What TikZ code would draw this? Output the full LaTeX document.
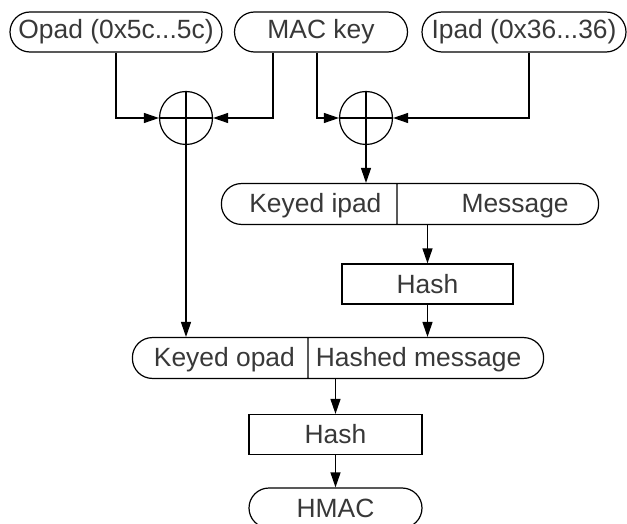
\documentclass[tikz,border=0pt]{standalone}
\usepackage{fontspec}
\setmainfont{Liberation Sans}
\usepackage{xcolor}
\definecolor{TextGray}{rgb}{0.22,0.22,0.22}
\usetikzlibrary{arrows.meta,shapes.multipart}
\tikzset{
  pill/.style={draw, rounded corners=10pt, minimum height=20pt, inner sep=0pt, text=TextGray},
  hashbox/.style={draw, minimum height=20pt, inner sep=0pt, text=TextGray},
  xorop/.style={draw, circle, minimum size=26.5pt, inner sep=0pt},
  splitpill/.style={draw, rounded corners=10pt, rectangle split, rectangle split horizontal,
    rectangle split parts=2, inner xsep=0pt, inner ysep=3pt, text=TextGray},
}
\newcommand{\partbox}[3]{\makebox[#1]{\hspace*{#2}#3\rule[-2.3pt]{0pt}{14pt}}}

\begin{document}
\begin{tikzpicture}[x=0.5pt, y=-0.5pt, line width=0.6pt,
  >={Triangle[length=7.5pt,width=5pt]}, font=\fontsize{13.2}{14}\selectfont]
\useasboundingbox (0,0) rectangle (627,524);

\node[pill, minimum width=106pt] (opad) at (116,32) {Opad (0x5c...5c)};
\node[pill, minimum width=86.5pt] (key) at (321,32) {MAC key};
\node[pill, minimum width=102pt] (ipad) at (524,32) {Ipad (0x36...36)};

\node[xorop] (x1) at (186,118) {};
\node[xorop] (x2) at (366,118) {};
\draw (x1.north) -- (x1.south) (x1.west) -- (x1.east);
\draw (x2.north) -- (x2.south) (x2.west) -- (x2.east);

\node[splitpill] (kip) at (410,204)
  {\partbox{87.5pt}{6.5pt}{Keyed ipad}\nodepart{two}\partbox{100.5pt}{17pt}{Message}};
\node[hashbox, minimum width=85.5pt] (hash1) at (427.5,284) {Hash};
\node[splitpill] (kop) at (338,358)
  {\partbox{87.5pt}{4.5pt}{Keyed opad}\nodepart{two}\partbox{117.5pt}{-7.5pt}{Hashed message}};
\node[hashbox, minimum width=86.5pt] (hash2) at (335.5,434.5) {Hash};
\node[pill, minimum width=86.5pt] (hmac) at (335.5,508) {HMAC};

\draw[->] (opad.south) |- (x1.west);
\draw[->] ([xshift=-24pt]key.south) |- (x1.east);
\draw[->] ([xshift=-2pt]key.south) |- (x2.west);
\draw[->] ([xshift=2.5pt]ipad.south) |- (x2.east);

\draw[->] (x1.south) -- (x1.south |- kop.north);
\draw[->] (x2.south) -- (x2.south |- kip.north);
\draw[->] (hash1.north |- kip.south) -- (hash1.north);
\draw[->] (hash1.south) -- (hash1.south |- kop.north);
\draw[->] (hash2.north |- kop.south) -- (hash2.north);
\draw[->] (hash2.south) -- (hmac.north);
\end{tikzpicture}
\end{document}
